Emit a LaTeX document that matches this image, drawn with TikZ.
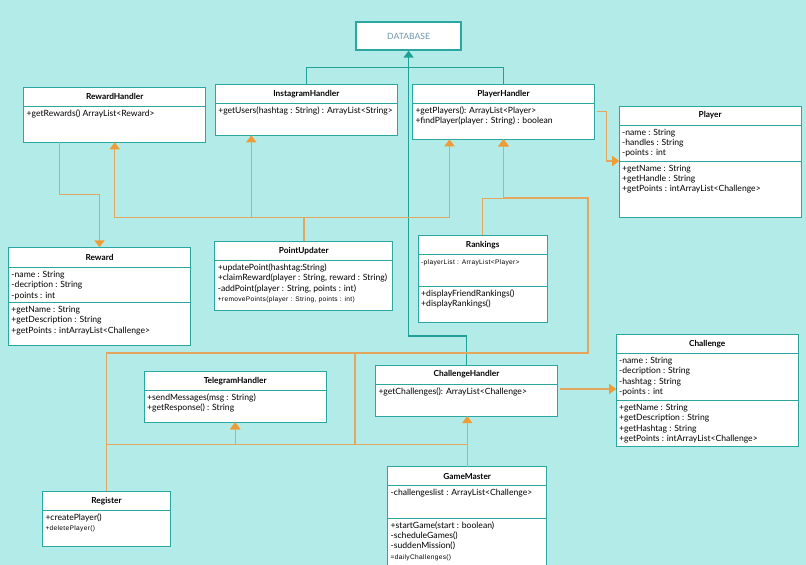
\documentclass[tikz,border=0pt]{standalone}
\usepackage{fontspec}
\setmainfont{Lato}
\newfontfamily\smallsans[LetterSpace=5]{Liberation Sans}
\usepackage{xcolor}
\usetikzlibrary{arrows.meta, positioning}

\definecolor{bgcyan}{RGB}{178,235,231}
\definecolor{boxteal}{RGB}{44,166,160}
\definecolor{lineteal}{RGB}{32,160,150}
\definecolor{lineorange}{RGB}{228,166,92}
\definecolor{tiporange}{RGB}{240,156,52}
\definecolor{dbtext}{RGB}{110,150,175}

\newcommand{\members}[3]{\parbox[c][#2pt][t]{\dimexpr#1pt-6pt\relax}{\vspace*{3pt}\noindent\begin{tabular}{@{}l@{}}#3\end{tabular}}}
\newcommand{\smalltxt}[1]{{\smallsans\fontsize{6.6}{7.5}\selectfont #1}}

\begin{document}
\begin{tikzpicture}[
        x=1pt, y=-1pt,
        classhd/.style={draw=boxteal, fill=white, line width=1pt, outer sep=0pt, inner sep=0pt, minimum height=19, anchor=north, font=\bfseries\fontsize{8.3}{9.6}\selectfont},
        compart/.style={draw=boxteal, fill=white, line width=1pt, outer sep=0pt, inner xsep=3pt, inner ysep=0pt, font=\fontsize{8.6}{10.3}\selectfont},
        dbbox/.style={draw=boxteal, fill=white, line width=1.3pt, text=dbtext, font=\fontsize{8.6}{9}\selectfont},
        assoc/.style={draw=lineorange, line width=1.4pt, -{Triangle[width=10pt, length=7pt, color=tiporange]}},
        dbline/.style={draw=lineteal, line width=1.4pt},
        dbarrow/.style={dbline, -{Triangle[width=10pt, length=7pt]}}
    ]

        \fill[bgcyan] (0,0) rectangle (806,565);
        \useasboundingbox (0,0) rectangle (806,565);

        \node[dbbox, minimum width=105, minimum height=28] (db) at (408.6,36) {DATABASE};

        \node[classhd, minimum width=182] (rh) at (114.7,87.3) {RewardHandler};
        \node[compart, below=0pt of rh] (rhm) {\members{182}{36}{+getRewards() ArrayList<Reward>}};

        \node[classhd, minimum width=182] (ih) at (306.3,84.3) {InstagramHandler};
        \node[compart, below=0pt of ih] (ihm) {\members{182}{32}{+getUsers(hashtag : String) : ArrayList<String>}};

        \node[classhd, minimum width=182] (ph) at (503.5,84.3) {PlayerHandler};
        \node[compart, below=0pt of ph] (phm) {\members{182}{36}{+getPlayers(): ArrayList<Player>\\+findPlayer(player : String) : boolean}};

        \node[classhd, minimum width=182] (pl) at (710.2,106) {Player};
        \node[compart, below=0pt of pl] (pla) {\members{182}{36}{-name : String\\-handles : String\\-points : int}};
        \node[compart, below=0pt of pla] (plm) {\members{182}{56}{+getName : String\\+getHandle : String\\+getPoints : intArrayList<Challenge>}};

        \node[classhd, minimum width=182, minimum height=20] (rw) at (99.5,247.3) {Reward};
        \node[compart, below=0pt of rw] (rwa) {\members{182}{35}{-name : String\\-decription : String\\-points : int}};
        \node[compart, below=0pt of rwa] (rwm) {\members{182}{43}{+getName : String\\+getDescription : String\\+getPoints : intArrayList<Challenge>}};

        \node[classhd, minimum width=178] (pu) at (303.8,241.3) {PointUpdater};
        \node[compart, below=0pt of pu] (pum) {\members{178}{50}{+updatePoint(hashtag:String)\\+claimReward(player : String, reward : String)\\-addPoint(player : String, points : int)\\\smalltxt{+removePoints(player : String, points : int)}}};

        \node[classhd, minimum width=129] (rk) at (482.7,235.3) {Rankings};
        \node[compart, below=0pt of rk] (rka) {\members{129}{32}{\smalltxt{-playerList : ArrayList<Player>}}};
        \node[compart, below=0pt of rka] (rkm) {\members{129}{36}{+displayFriendRankings()\\+displayRankings()}};

        \node[classhd, minimum width=182] (ch) at (707.2,334.3) {Challenge};
        \node[compart, below=0pt of ch] (cha) {\members{182}{47}{-name : String\\-decription : String\\-hashtag : String\\-points : int}};
        \node[compart, below=0pt of cha] (chm) {\members{182}{46}{+getName : String\\+getDescription : String\\+getHashtag : String\\+getPoints : intArrayList<Challenge>}};

        \node[classhd, minimum width=182] (tg) at (235.2,371.3) {TelegramHandler};
        \node[compart, below=0pt of tg] (tgm) {\members{182}{32}{+sendMessages(msg : String)\\+getResponse() : String}};

        \node[classhd, minimum width=182] (chh) at (466.5,365) {ChallengeHandler};
        \node[compart, below=0pt of chh] (chhm) {\members{182}{32}{+getChallenges(): ArrayList<Challenge>}};

        \node[classhd, minimum width=128] (rg) at (106.5,491.3) {Register};
        \node[compart, below=0pt of rg] (rgm) {\members{128}{36}{+createPlayer()\\\smalltxt{+deletePlayer()}}};

        \node[classhd, minimum width=159] (gm) at (467.2,466.5) {GameMaster};
        \node[compart, below=0pt of gm] (gma) {\members{159}{32.5}{-challengeslist : ArrayList<Challenge>}};
        \node[compart, below=0pt of gma] (gmm) {\members{159}{52}{+startGame(start : boolean)\\-scheduleGames()\\-suddenMission()\\\smalltxt{=dailyChallenges()}}};

        \coordinate (busL) at (355,353);
        \coordinate (busR) at (588,353);
        \coordinate (busT) at (588,198);
        \coordinate (phout) at ([yshift=-8pt]phm.north east);
        \coordinate (chout) at ([yshift=-5pt]chhm.north east);

        \draw[dbline] (ih.north) -- ++(0,-17) -| (ph.north);
        \draw[dbarrow] (chh.north) -- ++(0,-29) -| (db.south);

        \draw[assoc] ([xshift=36pt]rhm.south west) -- ++(0,52) -| (rw.north);

        \draw[assoc] (pu.north) -- ++(0,-24) -| (rhm.south);
        \draw[assoc] (pu.north) -- ++(0,-24) -| ([xshift=36pt]ihm.south west);
        \draw[assoc] (pu.north) -- ++(0,-24) -| ([xshift=37pt]phm.south west);

        \draw[assoc] (rk.north) -- ++(0,-37) -| (phm.south);
        \draw[assoc] (rg.north) |- (busR) -- (busT) -| (phm.south);
        \draw[assoc] (gm.north) -- ++(0,-22) -| (busL) -- (busR) -- (busT) -| (phm.south);

        \draw[assoc] (rg.north) -- ++(0,-47) -| (tgm.south);
        \draw[assoc] (gm.north) -- ++(0,-22) -| (tgm.south);
        \draw[assoc] (gm.north) -- (gm.north |- chhm.south);

        \draw[assoc, shorten <=2pt] (phout) -- ++(12,0) |- (pla.south west);
        \draw[assoc, shorten <=2pt] (chout) -- (chout -| cha.west);

    \end{tikzpicture}
\end{document}
